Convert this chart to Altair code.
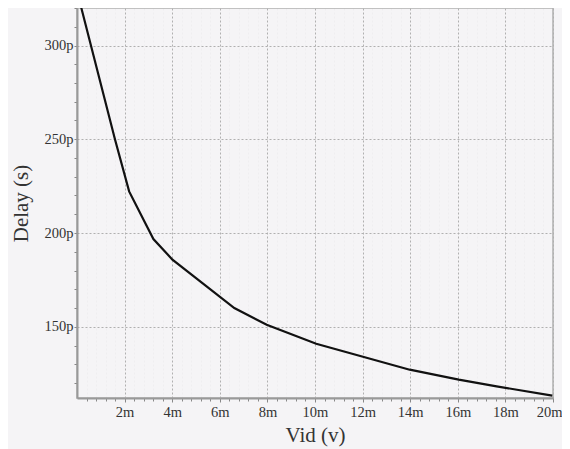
import altair as alt
import pandas as pd

# Data (Vid in mV, Delay in ps)
vid_mv = [0.18, 1.6, 2.19, 3.21, 4.01, 6.61, 7.97, 10.05, 13.98, 16.04, 17.63, 19.97]
delay_ps = [320.1, 249.7, 222.2, 196.8, 185.8, 160.0, 151.1, 140.9, 127.1, 121.8, 118.2, 113.3]

x_tick_values = [round(i * 0.4, 1) for i in range(1, 51)]
y_tick_values = list(range(120, 330, 10))

df = pd.DataFrame({"vid": vid_mv, "delay": delay_ps})

FONT = "Liberation Serif"
BG = "#f5f4f6"

x_axis = alt.Axis(
    values=x_tick_values,
    labelExpr="round(datum.value*10) % 20 === 0 ? datum.value + 'm' : ''",
    labelOverlap=False,
    labelBound=False,
    labelFlush=True,
    labelFlushOffset=9,
    labelFont=FONT,
    labelFontSize=14.5,
    labelColor="#333333",
    labelPadding=3,
    tickSize={"condition": {"test": "round(datum.value*10) % 20 === 0", "value": 4}, "value": 3},
    tickColor="#888888",
    domainColor="#999999",
    domainWidth=2,
    grid=True,
    gridColor="#b0b0b0",
    gridDash=[2, 2],
    gridOpacity={"condition": {"test": "round(datum.value*10) % 20 === 0", "value": 1}, "value": 0.08},
    title="Vid (v)",
    titleFont=FONT,
    titleFontSize=21,
    titleFontWeight="normal",
    titleColor="#333333",
    titlePadding=6,
)

y_axis = alt.Axis(
    values=y_tick_values,
    labelExpr="datum.value % 50 === 0 ? datum.value + 'p' : ''",
    labelOverlap=False,
    labelBound=False,
    labelFlush=False,
    labelFont=FONT,
    labelFontSize=14.5,
    labelColor="#333333",
    labelPadding=1,
    tickSize=3,
    tickColor="#888888",
    domainColor="#999999",
    domainWidth=2,
    grid=True,
    gridColor="#b0b0b0",
    gridDash=[2, 2],
    gridOpacity={"condition": {"test": "datum.value % 50 === 0", "value": 1}, "value": 0},
    title="Delay (s)",
    titleFont=FONT,
    titleFontSize=21,
    titleFontWeight="normal",
    titleColor="#333333",
    titlePadding=13,
)

chart = (
    alt.Chart(df)
    .mark_line(color="#111111", strokeWidth=2.2, clip=True)
    .encode(
        x=alt.X("vid:Q", scale=alt.Scale(domain=[0, 20], nice=False, zero=False), axis=x_axis),
        y=alt.Y("delay:Q", scale=alt.Scale(domain=[112, 320], nice=False, zero=False), axis=y_axis),
        order=alt.Order("vid:Q"),
    )
    .properties(
        width=476,
        height=390,
        background=BG,
        autosize=alt.AutoSizeParams(type="none"),
        padding={"left": 69, "top": 0, "right": 9, "bottom": 51},
    )
    .configure_view(stroke="#b0b0b0", strokeWidth=1.5, fill=BG)
)

chart.save("out.html", embed_options={"renderer": "svg", "actions": False})
